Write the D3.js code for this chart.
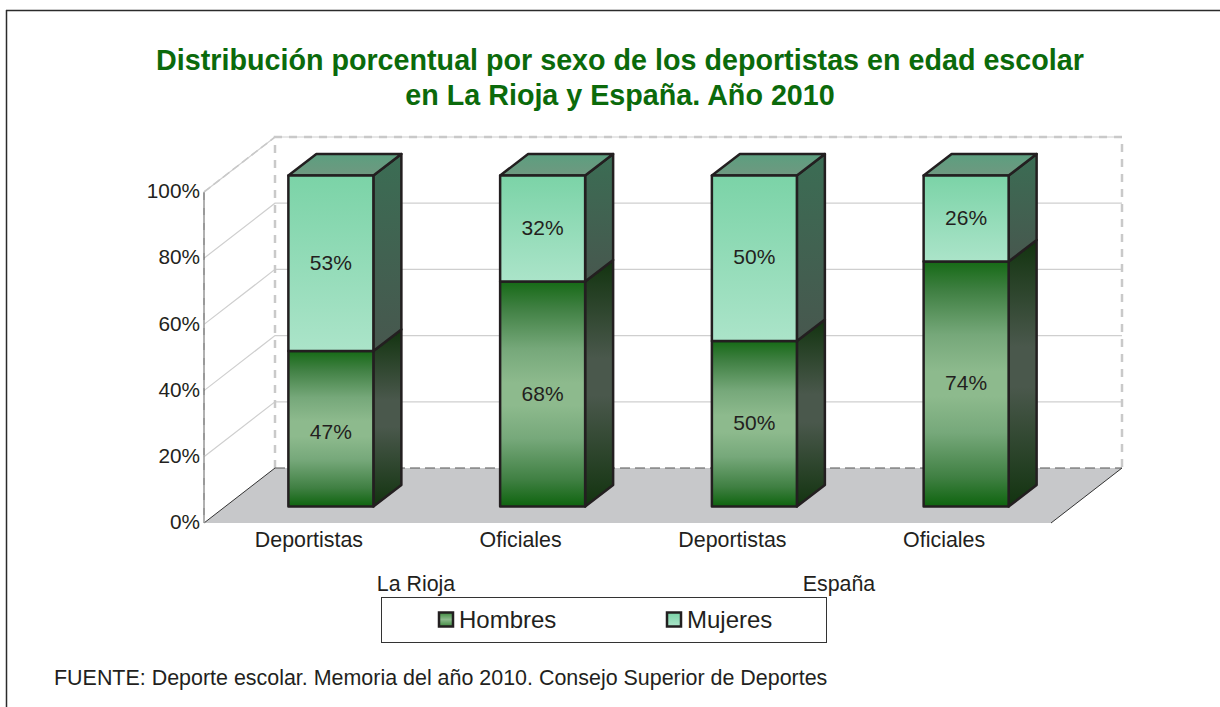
<!DOCTYPE html>
<html><head><meta charset="utf-8">
<script src="https://cdnjs.cloudflare.com/ajax/libs/d3/7.8.5/d3.min.js"></script>
<style>html,body{margin:0;padding:0;background:#fff}svg{display:block}text{font-family:"Liberation Sans",Arial,sans-serif;fill:#231f20}</style>
</head><body><svg id="c" width="1220" height="707"></svg>
<script>
const titleLines=["Distribución porcentual por sexo de los deportistas en edad escolar","en La Rioja y España. Año 2010"];
const categories=["Deportistas","Oficiales","Deportistas","Oficiales"];
const groups=["La Rioja","España"];
const hombres=[47,68,50,74];
const mujeres=[53,32,50,26];
const yTicks=[0,20,40,60,80,100];
const legendNames=["Hombres","Mujeres"];
const source="FUENTE: Deporte escolar. Memoria del año 2010. Consejo Superior de Deportes";

const svg=d3.select("#c");
const x=d3.scaleBand().domain(d3.range(4)).range([204,1051]);
const y=d3.scaleLinear().domain([0,100]).range([523,192]);
const wall={dx:71,dy:-55}, barOff={dx:21,dy:-16.5}, barD={dx:28,dy:-21.5}, barW=85;
const hNudge=[3,0,-1.5,-1], mNudge=[-.5,-.5,-1.5,-1];
const defs=svg.append("defs");
function grad(id,stops){const g=defs.append("linearGradient").attr("id",id).attr("x1",0).attr("y1",0).attr("x2",0).attr("y2",1);
 stops.forEach(s=>g.append("stop").attr("offset",s[0]).attr("stop-color",s[1]));}
grad("hF",[[0,"#166a16"],[.12,"#408043"],[.3,"#76a87a"],[.45,"#8dba8d"],[.55,"#8dba8d"],[.7,"#76a87a"],[.88,"#408043"],[1,"#0e640e"]]);
grad("hS",[[0,"#12330f"],[.4,"#4a584c"],[.55,"#4a584c"],[1,"#12330f"]]);
grad("mF",[[0,"#7bd3a7"],[1,"#abe4c9"]]);
grad("mS",[[0,"#3b6d54"],[1,"#47574e"]]);
grad("mT",[[0,"#5c9f7f"],[1,"#6f9880"]]);
grad("lH",[[0,"#3f8a3f"],[.5,"#8cba8c"],[1,"#3f8a3f"]]);

svg.append("line").attr("x1",6).attr("x2",1220).attr("y1",10.5).attr("y2",10.5).attr("stroke","#2b2b2b").attr("stroke-width",1.5);
svg.append("line").attr("x1",6.5).attr("x2",6.5).attr("y1",10).attr("y2",707).attr("stroke","#2b2b2b").attr("stroke-width",1.5);

titleLines.forEach((t,i)=>svg.append("text").attr("x",620).attr("y",[70,105][i]).attr("text-anchor","middle")
 .style("font-weight","bold").style("font-size","28.7px").style("fill","#0b6a0b").text(t));

const [x0,x1]=x.range(), y0=y(0), yT=y(100);
svg.append("path").attr("d",d3.line()([[x0,y0],[x0+wall.dx,y0+wall.dy],[x1+wall.dx,y0+wall.dy],[x1,y0]])+"Z").attr("fill","#c7c8ca");
yTicks.forEach(t=>{ if(t===0) return;
 svg.append("path").attr("d",d3.line()([[x0,y(t)],[x0+wall.dx,y(t)+wall.dy],[x1+wall.dx,y(t)+wall.dy]])).attr("fill","none").attr("stroke","#cfcfcf").attr("stroke-width",1.2);
});
const dashed=(pts,c,d,w)=>svg.append("path").attr("d",d3.line()(pts)).attr("fill","none").attr("stroke",c).attr("stroke-width",w).attr("stroke-dasharray",d);
dashed([[x0+wall.dx,y0+wall.dy],[x0+wall.dx,yT+wall.dy],[x1+wall.dx,yT+wall.dy],[x1+wall.dx,y0+wall.dy]],"#c9c9c9","8,7",2.5);
dashed([[x0,yT],[x0+wall.dx,yT+wall.dy]],"#c9c9c9","8,4",1.6);
dashed([[x0+wall.dx,y0+wall.dy],[x1+wall.dx,y0+wall.dy]],"#555","10,5",1.2);
svg.append("path").attr("d",d3.line()([[x0,y0],[x0+wall.dx,y0+wall.dy]])).attr("stroke","#333").attr("stroke-width",1).attr("fill","none");
svg.append("path").attr("d",d3.line()([[x1,y0],[x1+wall.dx,y0+wall.dy]])).attr("stroke","#333").attr("stroke-width",1).attr("fill","none");
svg.append("line").attr("x1",x0).attr("x2",x0).attr("y1",y0).attr("y2",yT).attr("stroke","#555").attr("stroke-width",1.2);
dashed([[x0,y0],[x0,yT]],"#c8c8c8","8,7",1);
const axis=d3.axisLeft(y).tickValues(yTicks).tickFormat(d=>d+"%").tickSize(0).tickPadding(4);
const ga=svg.append("g").attr("transform",`translate(${x0},-1)`).call(axis);
ga.select(".domain").remove();
ga.selectAll("text").style("font-size","20.8px").style("fill","#231f20");

function box(g,l,top,bot,fF,fS,fT){
 const r=l+barW,d=barD;
 const st={stroke:"#231f20","stroke-width":2.5,"stroke-linejoin":"round"};
 const P=(pts,f)=>{const p=g.append("path").attr("d",d3.line()(pts)+"Z").attr("fill",f);Object.entries(st).forEach(([k,v])=>p.attr(k,v));return p;};
 P([[r,bot],[r+d.dx,bot+d.dy],[r+d.dx,top+d.dy],[r,top]],fS);
 if(fT) P([[l,top],[l+d.dx,top+d.dy],[r+d.dx,top+d.dy],[r,top]],fT);
 P([[l,bot],[r,bot],[r,top],[l,top]],fF);
}
const lab=(cx,cy,t)=>svg.append("text").attr("x",cx).attr("y",cy).attr("text-anchor","middle").attr("dy","0.35em").style("font-size","21px").text(t+"%");
categories.forEach((c,i)=>{
 const cx=x(i)+x.bandwidth()/2+barOff.dx, l=cx-barW/2;
 const g=svg.append("g");
 const b=y(0)+barOff.dy, m=y(hombres[i])+barOff.dy, t=y(hombres[i]+mujeres[i])+barOff.dy;
 box(g,l,m,b,"url(#hF)","url(#hS)",null);
 box(g,l,t,m,"url(#mF)","url(#mS)","url(#mT)");
 lab(l+barW/2,(b+m)/2+hNudge[i],hombres[i]);
 lab(l+barW/2,(m+t)/2+mNudge[i],mujeres[i]);
 svg.append("text").attr("x",x(i)+x.bandwidth()/2-1).attr("y",547).attr("text-anchor","middle").style("font-size","21.4px").text(c);
});
[[416,groups[0]],[839,groups[1]]].forEach(a=>svg.append("text").attr("x",a[0]).attr("y",591).attr("text-anchor","middle").style("font-size","21.4px").text(a[1]));

svg.append("rect").attr("x",381.5).attr("y",597.5).attr("width",445).attr("height",45).attr("fill","#fff").attr("stroke","#333");
[[438,"url(#lH)",legendNames[0]],[666,"url(#mF)",legendNames[1]]].forEach(a=>{
 svg.append("rect").attr("x",a[0]+1).attr("y",612.5).attr("width",14).attr("height",14).attr("fill",a[1]).attr("stroke","#231f20").attr("stroke-width",2.5);
 svg.append("text").attr("x",a[0]+21).attr("y",628).style("font-size","24px").text(a[2]);
});
svg.append("text").attr("x",54).attr("y",685).style("font-size","21.45px").text(source);
</script></body></html>
